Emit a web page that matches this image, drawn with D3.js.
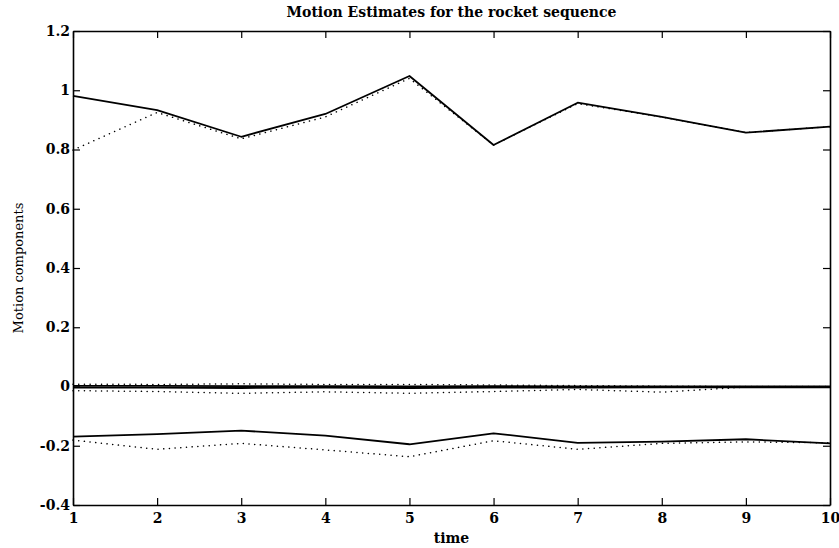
<!DOCTYPE html>
<html>
<head>
<meta charset="utf-8">
<script src="https://cdn.jsdelivr.net/npm/d3@7"></script>
<style>
  html, body { margin: 0; padding: 0; background: #fff; }
  svg { display: block; }
  .tick text { font-family: "DejaVu Serif", serif; font-weight: bold; font-size: 14px; fill: #000; }
  .tick line { stroke: #000; stroke-width: 1.2px; }
  .domain { stroke: #000; stroke-width: 1.6px; }
</style>
</head>
<body>
<svg id="chart" width="839" height="548"></svg>
<script>
// Time steps of the sequence
const time = [1, 2, 3, 4, 5, 6, 7, 8, 9, 10];

// Estimated motion components (solid)
const estUpper = [0.981, 0.933, 0.843, 0.920, 1.048, 0.815, 0.958, 0.910, 0.857, 0.877];
const estZeroA = [0.002, 0.002, 0.001, 0.001, 0.000, 0.001, 0.000, 0.000, 0.000, 0.000];
const estZeroB = [-0.004, -0.004, -0.005, -0.004, -0.005, -0.004, -0.004, -0.003, -0.003, -0.003];
const estLower = [-0.169, -0.161, -0.149, -0.166, -0.195, -0.158, -0.190, -0.186, -0.178, -0.192];

// Reference motion components (dotted)
const refUpper = [0.798, 0.925, 0.836, 0.910, 1.040, 0.815, 0.955, 0.910, 0.857, 0.877];
const refZeroA = [0.008, 0.007, 0.009, 0.007, 0.007, 0.005, 0.003, 0.001, 0.000, 0.000];
const refZeroB = [-0.014, -0.017, -0.023, -0.018, -0.023, -0.017, -0.010, -0.019, -0.002, -0.002];
const refLower = [-0.181, -0.212, -0.192, -0.214, -0.237, -0.183, -0.212, -0.192, -0.187, -0.190];

// Axis ticks
const xTicks = [1, 2, 3, 4, 5, 6, 7, 8, 9, 10];
const yTicks = [-0.4, -0.2, 0, 0.2, 0.4, 0.6, 0.8, 1, 1.2];
const yTickLabels = ["-0.4", "-0.2", "0", "0.2", "0.4", "0.6", "0.8", "1", "1.2"];

const titleText = "Motion Estimates for the rocket sequence";
const xLabelText = "time";
const yLabelText = "Motion components";

const margin = { left: 73, right: 9, top: 31, bottom: 43 };
const W = 839, H = 548;
const innerW = W - margin.left - margin.right;
const innerH = H - margin.top - margin.bottom;

const svg = d3.select("#chart");
const g = svg.append("g").attr("transform", `translate(${margin.left},${margin.top})`);

const x = d3.scaleLinear().domain([1, 10]).range([0, innerW]);
const y = d3.scaleLinear().domain([-0.4, 1.2]).range([innerH, 0]);

const line = d3.line().x((d, i) => x(time[i])).y(d => y(d));

// Dotted reference curves underneath
[refUpper, refZeroA, refZeroB, refLower].forEach(s => {
  g.append("path")
    .datum(s)
    .attr("d", line)
    .attr("fill", "none")
    .attr("stroke", "#000")
    .attr("stroke-width", 1.5)
    .attr("stroke-linecap", "round")
    .attr("stroke-dasharray", "0.1 5.6");
});

// Solid estimate curves on top
[estUpper, estZeroA, estZeroB, estLower].forEach(s => {
  g.append("path")
    .datum(s)
    .attr("d", line)
    .attr("fill", "none")
    .attr("stroke", "#000")
    .attr("stroke-width", 1.8)
    .attr("stroke-linejoin", "round");
});

// Box axes with inward ticks
const fmtY = d => yTickLabels[yTicks.indexOf(d)];
g.append("g")
  .call(d3.axisLeft(y).tickValues(yTicks).tickFormat(fmtY).tickSize(-7).tickSizeOuter(0).tickPadding(3));
g.append("g")
  .attr("transform", `translate(${innerW},0)`)
  .call(d3.axisRight(y).tickValues(yTicks).tickFormat("").tickSize(-7).tickSizeOuter(0));
g.append("g")
  .attr("transform", `translate(0,${innerH})`)
  .call(d3.axisBottom(x).tickValues(xTicks).tickFormat(d3.format("d")).tickSize(-7).tickSizeOuter(0).tickPadding(8));
g.append("g")
  .call(d3.axisTop(x).tickValues(xTicks).tickFormat("").tickSize(-7).tickSizeOuter(0));

// Title
svg.append("text")
  .attr("x", margin.left + innerW / 2)
  .attr("y", 17)
  .attr("text-anchor", "middle")
  .attr("font-family", "DejaVu Serif, serif")
  .attr("font-weight", "bold")
  .attr("font-size", 14)
  .text(titleText);

// X axis label
svg.append("text")
  .attr("x", margin.left + innerW / 2)
  .attr("y", 543)
  .attr("text-anchor", "middle")
  .attr("font-family", "DejaVu Serif, serif")
  .attr("font-weight", "bold")
  .attr("font-size", 14)
  .text(xLabelText);

// Y axis label
svg.append("text")
  .attr("transform", `translate(23,${margin.top + innerH / 2}) rotate(-90)`)
  .attr("text-anchor", "middle")
  .attr("font-family", "DejaVu Serif, serif")
  .attr("font-size", 13)
  .text(yLabelText);
</script>
</body>
</html>
